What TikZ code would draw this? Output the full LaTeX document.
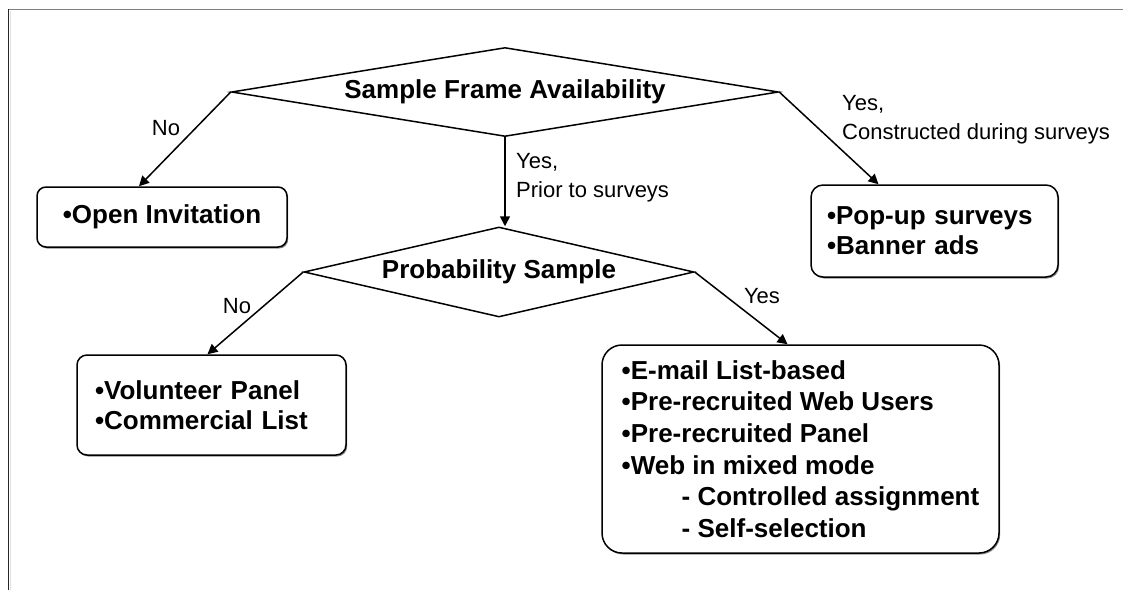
\documentclass[tikz,border=0pt]{standalone}
\usepackage{fontspec}
\setmainfont{Liberation Sans}
\usetikzlibrary{shapes.geometric,arrows.meta,shadows}
\begin{document}
\begin{tikzpicture}[x=1pt,y=-1pt,
  decision/.style={diamond, draw=black, line width=1.5pt, fill=white, inner sep=0pt,
    font=\fontsize{26}{31}\selectfont\bfseries},
  itembox/.style={rectangle, rounded corners=9pt, draw=black, line width=1.5pt, fill=white,
    drop shadow={shadow xshift=1.2pt, shadow yshift=-1.5pt, fill=black!45, opacity=1},
    font=\fontsize{26}{30}\selectfont\bfseries},
  link/.style={line width=1.5pt, -{Triangle[length=10pt,width=10pt]}},
  lbl/.style={inner sep=0pt, font=\fontsize{22}{29}\selectfont}
]
\useasboundingbox (0,0) rectangle (1123,590);
\fill[white] (0,0) rectangle (1123,590);
% frame
\draw[black!50, line width=1.3pt] (8,9.5) -- (1123,9.5);
\draw[black!85, line width=1pt] (8.5,9) -- (8.5,590);
\draw[black!12, line width=1.2pt] (10.4,10.5) -- (10.4,590);

% decisions
\node[decision, minimum width=547pt, minimum height=89pt, aspect=6.1] (d1) at (505,92) {Sample Frame Availability};
\node[decision, minimum width=390pt, minimum height=90pt, aspect=4.33] (d2) at (499,272) {Probability Sample};

% boxes
\node[itembox, minimum width=250pt, minimum height=60pt, align=center] (oi) at (162,217) {•Open Invitation};
\node[itembox, minimum width=247pt, minimum height=92pt, rounded corners=12pt, text width=215pt, inner xsep=16pt, align=left] (pu) at (934.5,231) {•Pop-up surveys\\•Banner ads};
\node[itembox, minimum width=269pt, minimum height=100pt, rounded corners=10pt, text width=233pt, inner xsep=18pt, align=left] (vol) at (211.5,405) {•Volunteer Panel\\•Commercial List};
\node[itembox, minimum width=397pt, minimum height=208pt, rounded corners=20pt, align=left, font=\fontsize{26}{31.6}\selectfont\bfseries] (em) at (800.5,449) {•E-mail List-based\\•Pre-recruited Web Users\\•Pre-recruited Panel\\•Web in mixed mode\\\hspace*{60pt}- Controlled assignment\\\hspace*{60pt}- Self-selection};

% labels
\node[lbl] (n1) at (166,128) {No};
\node[lbl, anchor=north west, align=left] (y1) at (516,153) {Yes,\\Prior to surveys};
\node[lbl, anchor=north west, align=left] (y2) at (842,95) {Yes,\\Constructed during surveys};
\node[lbl] (n2) at (237,306) {No};
\node[lbl] (y3) at (762,296) {Yes};

% connectors
\draw[link] (d1.west) -- ([xshift=-23pt]oi.north);
\draw[link] (d1.east) -- ([xshift=-56pt]pu.north);
\draw[link] (d1.south) -- (d1.south |- d2.north);
\draw[link] (d2.west) -- ([xshift=-4pt]vol.north);
\draw[link] (d2.east) -- ([xshift=-13pt]em.north);
\end{tikzpicture}
\end{document}
